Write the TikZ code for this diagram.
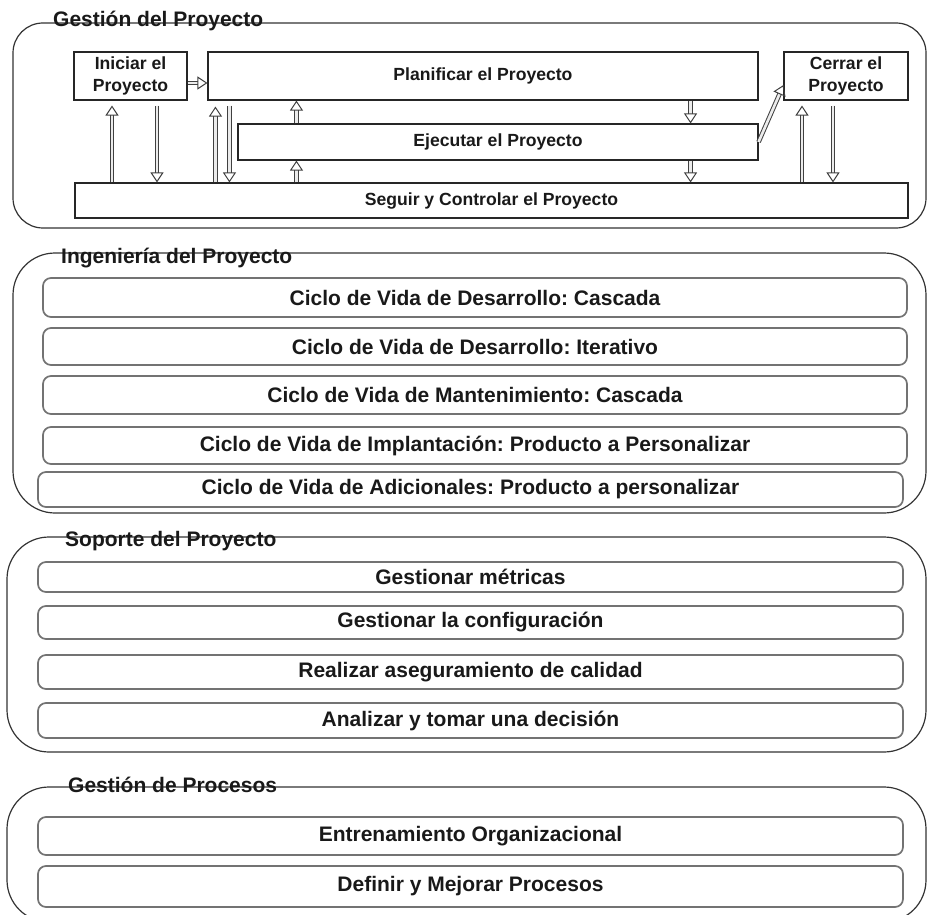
\documentclass[tikz,border=0pt]{standalone}
\usepackage{fontspec}
\setmainfont{Liberation Sans}
\frenchspacing
\usetikzlibrary{arrows.meta}
\tikzstyle{grupo} = [draw=black!80, line width=1.2pt]
\tikzstyle{titulo} = [anchor=base west, inner sep=0pt, text=black!90, font=\fontsize{21}{25}\selectfont\bfseries]
\tikzstyle{fase} = [draw=black!85, line width=1.1pt, inner sep=0pt, align=center, text=black!90, font=\fontsize{17.6}{22}\selectfont\bfseries]
\tikzstyle{proc} = [draw=black!55, line width=1.7pt, rounded corners=8pt, inner sep=0pt, text=black!90, font=\fontsize{21}{25}\selectfont\bfseries]
\tikzstyle{flecha} = [draw=black!75, line width=1pt, double=black!8, double distance=2.6pt, -{Triangle[open,length=10pt,width=13pt]}]

\begin{document}
\begin{tikzpicture}[x=1pt,y=-1pt]
\useasboundingbox (0,0) rectangle (927,915);

\draw[grupo, rounded corners=30pt] (13,23) rectangle (926,228);
\draw[grupo, rounded corners=42pt] (13,253) rectangle (926,513);
\draw[grupo, rounded corners=42pt] (7,537) rectangle (926,752);
\draw[grupo, rounded corners=42pt] (7,787) rectangle (926,922);

\node[titulo] (tgestion) at (53,27) {Gestión del Proyecto};
\node[titulo] (tingenieria) at (61,263) {Ingeniería del Proyecto};
\node[titulo] (tsoporte) at (65,546) {Soporte del Proyecto};
\node[titulo] (tprocesos) at (68,792) {Gestión de Procesos};

% gestion del proyecto
\node[fase, minimum width=113pt, minimum height=48pt] (iniciar) at (130.5,76) {Iniciar el\\Proyecto};
\node[fase, minimum width=550pt, minimum height=48pt] (planificar) at (483,76) {Planificar el Proyecto};
\node[fase, minimum width=124pt, minimum height=48pt] (cerrar) at (846,76) {Cerrar el\\Proyecto};
\node[fase, minimum width=520pt, minimum height=36pt] (ejecutar) at (498,142) {Ejecutar el Proyecto};
\node[fase, minimum width=833pt, minimum height=35pt] (seguir) at (491.5,200.5) {Seguir y Controlar el Proyecto};

\draw[flecha] ([yshift=-7]iniciar.east) -- ([yshift=-7]iniciar.east -| planificar.west);
\draw[flecha, shorten >=5pt] ([xshift=-18.5]iniciar.south |- seguir.north) -- ([xshift=-18.5]iniciar.south);
\draw[flecha, shorten <=5pt] ([xshift=26.5]iniciar.south) -- ([xshift=26.5]iniciar.south |- seguir.north);
\draw[flecha, shorten >=6pt] ([xshift=8]planificar.south west |- seguir.north) -- ([xshift=8]planificar.south west);
\draw[flecha, shorten <=5pt] ([xshift=22]planificar.south west) -- ([xshift=22]planificar.south west |- seguir.north);
\draw[flecha] ([xshift=59]ejecutar.north west) -- ([xshift=59]ejecutar.north west |- planificar.south);
\draw[flecha] ([xshift=59]ejecutar.south west |- seguir.north) -- ([xshift=59]ejecutar.south west);
\draw[flecha] ([xshift=-68]ejecutar.north east |- planificar.south) -- ([xshift=-68]ejecutar.north east);
\draw[flecha] ([xshift=-68]ejecutar.south east) -- ([xshift=-68]ejecutar.south east |- seguir.north);
\draw[flecha] (ejecutar.east) -- ([yshift=-9]cerrar.west);
\draw[flecha, shorten >=5pt] ([xshift=-44]cerrar.south |- seguir.north) -- ([xshift=-44]cerrar.south);
\draw[flecha, shorten <=5pt] ([xshift=-13]cerrar.south) -- ([xshift=-13]cerrar.south |- seguir.north);

% ingenieria del proyecto
\node[proc, minimum width=864pt, minimum height=39pt] (cascada) at (475,297.5) {Ciclo de Vida de Desarrollo: Cascada};
\node[proc, minimum width=864pt, minimum height=37pt] (iterativo) at (475,346.5) {Ciclo de Vida de Desarrollo: Iterativo};
\node[proc, minimum width=864pt, minimum height=38pt] (mantenimiento) at (475,395) {Ciclo de Vida de Mantenimiento: Cascada};
\node[proc, minimum width=864pt, minimum height=37pt] (implantacion) at (475,445.5) {Ciclo de Vida de Implantación: Producto a Personalizar};
\node[proc, minimum width=865pt, minimum height=35pt] (adicionales) at (470.5,489.5) {Ciclo de Vida de Adicionales: Producto a personalizar};

% soporte del proyecto
\node[proc, minimum width=865pt, minimum height=30pt] (metricas) at (470.5,577) {Gestionar métricas};
\node[proc, minimum width=865pt, minimum height=33pt] (configuracion) at (470.5,622.5) {Gestionar la configuración};
\node[proc, minimum width=865pt, minimum height=34pt] (calidad) at (470.5,672) {Realizar aseguramiento de calidad};
\node[proc, minimum width=865pt, minimum height=35pt] (decision) at (470.5,720.5) {Analizar y tomar una decisión};

% gestion de procesos
\node[proc, minimum width=865pt, minimum height=38pt] (entrenamiento) at (470.5,836) {Entrenamiento Organizacional};
\node[proc, minimum width=865pt, minimum height=41pt] (mejorar) at (470.5,886.5) {Definir y Mejorar Procesos};
\end{tikzpicture}
\end{document}
